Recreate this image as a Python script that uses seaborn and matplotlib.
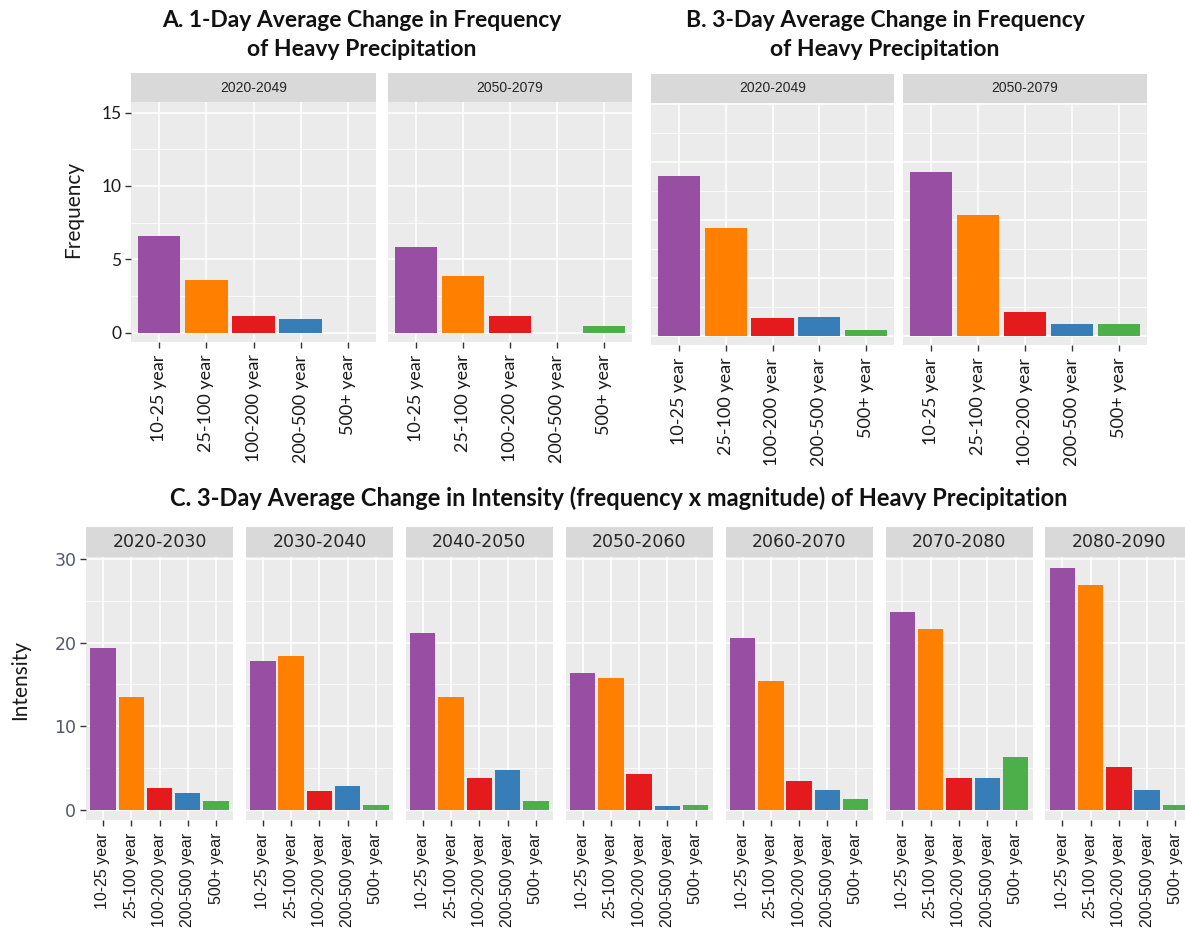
import matplotlib
matplotlib.use("Agg")
import matplotlib.pyplot as plt
import seaborn as sns
import pandas as pd

# ---- data -------------------------------------------------------------
return_periods = ["10-25 year", "25-100 year", "100-200 year", "200-500 year", "500+ year"]
set1_colors = ["#984EA3", "#FF7F00", "#E41A1C", "#377EB8", "#4DAF4A"]

freq_periods = ["2020-2049", "2050-2079"]
freq_1day_2020_2049 = [6.57, 3.58, 1.13, 0.91, 0.0]
freq_1day_2050_2079 = [5.82, 3.90, 1.13, 0.0, 0.45]
freq_3day_2020_2049 = [11.0, 7.43, 1.22, 1.29, 0.37]
freq_3day_2050_2079 = [11.3, 8.32, 1.61, 0.83, 0.83]

decades = ["2020-2030", "2030-2040", "2040-2050", "2050-2060",
           "2060-2070", "2070-2080", "2080-2090"]
int_2020_2030 = [19.3, 13.5, 2.6, 2.0, 1.1]
int_2030_2040 = [17.8, 18.4, 2.3, 2.9, 0.65]
int_2040_2050 = [21.1, 13.5, 3.9, 4.8, 1.1]
int_2050_2060 = [16.4, 15.8, 4.35, 0.5, 0.65]
int_2060_2070 = [20.6, 15.4, 3.45, 2.4, 1.4]
int_2070_2080 = [23.7, 21.6, 3.9, 3.9, 6.4]
int_2080_2090 = [28.9, 26.9, 5.2, 2.4, 0.65]

# ---- figure -----------------------------------------------------------
W, H = 1185, 930
fig = plt.figure(figsize=(W / 100, H / 100), dpi=100)
fig.patch.set_facecolor("white")

SANS = ["Lato", "DejaVu Sans"]
PANEL_BG = "#EBEBEB"
STRIP_BG = "#D9D9D9"


def box(x0, y0, x1, y1):
    """Pixel box (left, top, right, bottom) -> figure fraction rect."""
    return [x0 / W, 1 - y1 / H, (x1 - x0) / W, (y1 - y0) / H]


def facet(x0, x1, strip_top, top, bottom, values, label, ylim, major, minor,
          strip_kw, xtick_kw, ytick_kw=None, show_y=False):
    ax = fig.add_axes(box(x0, top, x1, bottom))
    df = pd.DataFrame({"period": return_periods, "value": values})
    sns.barplot(data=df, x="period", y="value", hue="period",
                order=return_periods, hue_order=return_periods,
                palette=set1_colors, legend=False, width=0.9,
                saturation=1, linewidth=0, ax=ax)
    ax.set_facecolor(PANEL_BG)
    ax.set_xlim(-0.6, 4.6)
    ax.set_ylim(*ylim)
    ax.set_yticks(major)
    ax.set_yticks(minor, minor=True)
    ax.set_axisbelow(True)
    ax.grid(which="major", color="white", lw=1.1)
    ax.grid(which="minor", axis="y", color="white", lw=0.55)
    ax.tick_params(which="minor", length=0)
    for s in ax.spines.values():
        s.set_visible(False)
    ax.set_xlabel("")
    ax.set_ylabel("")
    ax.set_xticks(range(len(return_periods)))
    ax.set_xticklabels(return_periods, rotation=90, **xtick_kw)
    ax.tick_params(axis="x", length=4, width=1, color="#333333", pad=5)
    if show_y:
        ax.set_yticklabels([f"{v:g}" for v in major], **ytick_kw)
        ax.tick_params(axis="y", length=4, width=1, color="#333333", pad=3)
    else:
        ax.set_yticklabels([])
        ax.tick_params(axis="y", length=0)

    strip = fig.add_axes(box(x0, strip_top, x1, top))
    strip.set_facecolor(STRIP_BG)
    strip.set_xticks([])
    strip.set_yticks([])
    for s in strip.spines.values():
        s.set_visible(False)
    strip.text(0.5, 0.5, label, ha="center", va="center", **strip_kw)
    return ax


ab_xtick = dict(fontsize=13, family=SANS, color="#1A1A1A")
ab_ytick = dict(fontsize=12.5, family=SANS, color="#1A1A1A")
ab_strip = dict(fontsize=10, family=["Liberation Sans", "DejaVu Sans"], color="#262626")

# ---- A: 1-day frequency ----------------------------------------------
a_ylim = (-0.63, 15.72)
a_major = [0, 5, 10, 15]
a_minor = [2.5, 7.5, 12.5]
facet(131, 376, 73, 102, 342, freq_1day_2020_2049, freq_periods[0], a_ylim,
      a_major, a_minor, ab_strip, ab_xtick, ab_ytick, show_y=True)
facet(388, 632, 73, 102, 342, freq_1day_2050_2079, freq_periods[1], a_ylim,
      a_major, a_minor, ab_strip, ab_xtick)
fig.text(73 / W, 1 - 209 / H, "Frequency", rotation=90, ha="center",
         va="center", fontsize=15, family=SANS, color="#1A1A1A")
fig.text(362 / W, 1 - 10 / H,
         "A. 1-Day Average Change in Frequency\nof Heavy Precipitation",
         ha="center", va="top", fontsize=16.5, fontweight="bold",
         family=SANS, linespacing=1.5, color="#111111")

# ---- B: 3-day frequency ----------------------------------------------
b_ylim = (-0.64, 16.05)
b_major = [0, 4, 8, 12, 16]
b_minor = [2, 6, 10, 14]
facet(651, 894, 74, 103, 345, freq_3day_2020_2049, freq_periods[0], b_ylim,
      b_major, b_minor, ab_strip, ab_xtick)
facet(903, 1147, 74, 103, 345, freq_3day_2050_2079, freq_periods[1], b_ylim,
      b_major, b_minor, ab_strip, ab_xtick)
fig.text(885 / W, 1 - 10 / H,
         "B. 3-Day Average Change in Frequency\nof Heavy Precipitation",
         ha="center", va="top", fontsize=16.5, fontweight="bold",
         family=SANS, linespacing=1.5, color="#111111")

# ---- C: 3-day intensity by decade -------------------------------------
c_series = [int_2020_2030, int_2030_2040, int_2040_2050, int_2050_2060,
            int_2060_2070, int_2070_2080, int_2080_2090]
c_ylim = (-1.16, 30.2)
c_major = [0, 10, 20, 30]
c_minor = [5, 15, 25]
c_xtick = dict(fontsize=11.5, family=["Liberation Sans", "DejaVu Sans"], color="#1A1A1A")
c_ytick = dict(fontsize=12.5, family=["DejaVu Sans"], color="#55576A")
c_strip = dict(fontsize=12.5, family=["DejaVu Sans"], color="#262626")
for i, (dec, vals) in enumerate(zip(decades, c_series)):
    x0 = 86 + i * 159.9
    facet(x0, x0 + 147, 527, 557, 820, vals, dec, c_ylim, c_major, c_minor,
          c_strip, c_xtick, c_ytick, show_y=(i == 0))
fig.text(20 / W, 1 - 680 / H, "Intensity", rotation=90, ha="center",
         va="center", fontsize=15, family=SANS, color="#1A1A1A")
fig.text(619 / W, 1 - 506 / H,
         "C. 3-Day Average Change in Intensity (frequency x magnitude) of Heavy Precipitation",
         ha="center", va="baseline", fontsize=17, fontweight="bold",
         family=SANS, color="#111111")

fig.savefig("out.png", dpi=100, facecolor="white")
